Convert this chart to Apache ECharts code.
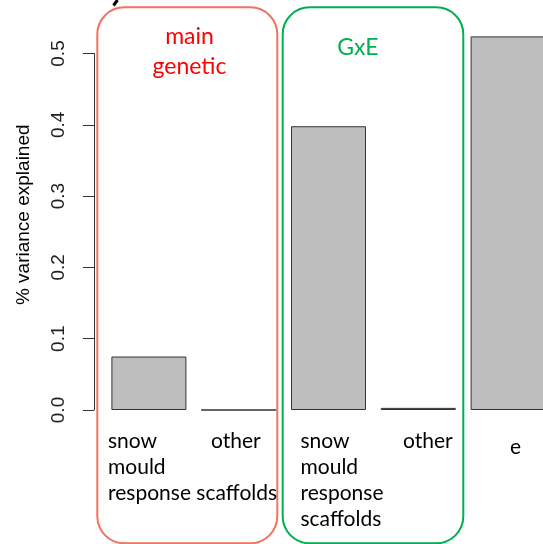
<!DOCTYPE html>
<html>
<head>
<meta charset="utf-8">
<script src="https://cdn.jsdelivr.net/npm/echarts@6/dist/echarts.min.js"></script>
<style>
  html, body { margin: 0; padding: 0; background: #ffffff; }
  #chart { width: 543px; height: 544px; }
</style>
</head>
<body>
<div id="chart"></div>
<script>
// Variance components: main genetic and GxE effects, split by scaffold type, plus residual
const categories = ['snow mould response scaffolds', 'other', 'snow mould response scaffolds (GxE)', 'other (GxE)', 'e'];
const varianceExplained = [0.075, 0, 0.398, 0.003, 0.524];
const yTickLabels = ['0.0', '0.1', '0.2', '0.3', '0.4', '0.5'];
const categoryLabelLines = [
  ['snow', 'mould', 'response scaffolds'],
  ['other'],
  ['snow', 'mould', 'response', 'scaffolds'],
  ['other'],
  ['e']
];
const groupTitles = ['main\ngenetic', 'GxE'];
const yAxisTitle = '% variance explained';

const chart = echarts.init(document.getElementById('chart'), null, { renderer: 'canvas' });

const labelFont = { fontFamily: 'Lato', fontSize: 21, lineHeight: 26, fill: '#000000' };
const labelTop = 428;
// left edge (or centre for the last one) of each category caption
const labelX = [108, 211, 300.5, 403, 515.5];

const graphic = [
  // group frames
  { type: 'rect', shape: { x: 97.3, y: 7.3, width: 180, height: 536, r: 27 },
    style: { fill: 'none', stroke: '#F4725E', lineWidth: 2 }, z: 1 },
  { type: 'rect', shape: { x: 282.7, y: 7.3, width: 180.6, height: 536, r: 27 },
    style: { fill: 'none', stroke: '#00B050', lineWidth: 2 }, z: 1 },
  // group titles
  { type: 'text', x: 189.5, y: 21.5,
    style: { text: groupTitles[0], fontFamily: 'Lato', fontSize: 23, lineHeight: 30,
             fill: '#FF0000', align: 'center', verticalAlign: 'top' }, z: 5 },
  { type: 'text', x: 358, y: 47.6,
    style: { text: groupTitles[1], fontFamily: 'Lato', fontSize: 23,
             fill: '#00B050', align: 'center', verticalAlign: 'middle' }, z: 5 },
  // fragment of a panel letter above the plot
  { type: 'line', shape: { x1: 117.5, y1: 0, x2: 113.5, y2: 5.5 },
    style: { stroke: '#000000', lineWidth: 3 }, z: 5 }
];

categoryLabelLines.forEach(function (lines, i) {
  const last = i === categoryLabelLines.length - 1;
  graphic.push({
    type: 'text',
    x: labelX[i],
    y: last ? labelTop + 6 : labelTop,
    style: Object.assign({}, labelFont, {
      text: lines.join('\n'),
      align: last ? 'center' : 'left',
      verticalAlign: 'top'
    }),
    z: 5
  });
});

chart.setOption({
  animation: false,
  backgroundColor: '#ffffff',
  grid: { left: 104, top: 53.5, width: 449, height: 356.5, containLabel: false, outerBoundsMode: 'none' },
  xAxis: {
    type: 'category',
    data: categories,
    axisLine: { show: false },
    axisTick: { show: false },
    axisLabel: { show: false },
    splitLine: { show: false }
  },
  yAxis: {
    type: 'value',
    min: 0,
    max: 0.5,
    interval: 0.1,
    offset: 10,
    name: yAxisTitle,
    nameLocation: 'middle',
    nameRotate: 90,
    nameGap: 61,
    nameTextStyle: { fontFamily: 'Liberation Sans', fontSize: 19, color: '#000000', padding: [0, 0, 0, 34] },
    axisLine: { show: true, lineStyle: { color: '#333333', width: 1 } },
    axisTick: { show: true, length: 11, lineStyle: { color: '#333333', width: 1 } },
    axisLabel: {
      rotate: 90,
      margin: 26,
      fontFamily: 'Liberation Sans',
      fontSize: 19,
      color: '#222222',
      formatter: function (v) { return yTickLabels[Math.round(v * 10)]; }
    },
    splitLine: { show: false }
  },
  series: [{
    type: 'bar',
    data: varianceExplained,
    barWidth: 75,
    clip: false,
    itemStyle: { color: '#BEBEBE', borderColor: '#333333', borderWidth: 1 },
    z: 3
  }],
  graphic: graphic
});
</script>
</body>
</html>
